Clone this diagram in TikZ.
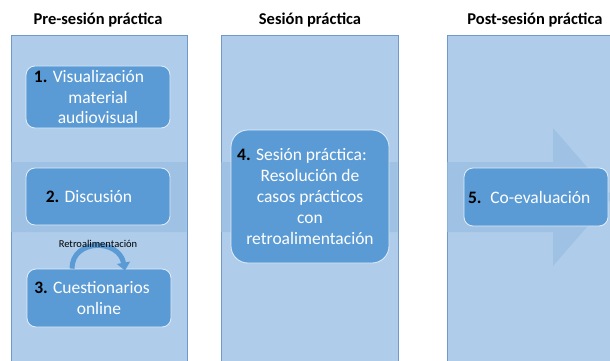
\documentclass[tikz,border=0pt]{standalone}
\usepackage{fontspec}
\setmainfont{Carlito}
\usetikzlibrary{arrows.meta}
\definecolor{colfill}{HTML}{AFCDEA}
\definecolor{colline}{HTML}{7098C8}
\definecolor{bandfill}{HTML}{9EC1E4}
\definecolor{boxfill}{HTML}{5B9BD5}
\definecolor{boxline}{HTML}{E3EEF9}
\tikzset{
  column/.style={fill=colfill,draw=colline,line width=0.7pt},
  title/.style={font=\bfseries\fontsize{16.5}{18}\selectfont,anchor=center,inner sep=0pt},
  stepbox/.style={fill=boxfill,draw=boxline,line width=0.8pt,rounded corners=9pt,
    text=white,font=\fontsize{17.5}{20.5}\selectfont,align=center,inner sep=0pt},
}
\newcommand{\numb}[1]{\textcolor{black}{\textbf{#1}}}
\begin{document}
\begin{tikzpicture}[x=1pt,y=-1pt]
\useasboundingbox (0,0) rectangle (610,361);
\begin{scope}
\clip (0,0) rectangle (610,361);
% columns
\draw[column] (11,372) -- (11,35) -- (187,35) -- (187,372);
\draw[column] (221,372) -- (221,35) -- (398,35) -- (398,372);
\draw[column] (447,372) -- (447,35) -- (620,35) -- (620,372);
% background arrow, seen only on the columns
\begin{scope}
\clip (11.4,35.4) rectangle (186.6,372) (221.4,35.4) rectangle (397.6,372) (447.4,35.4) rectangle (620,372);
\fill[bandfill] (0,162) -- (553,162) -- (553,128) -- (613,197) -- (553,266) -- (553,232) -- (0,232) -- cycle;
\end{scope}
\end{scope}
% titles
\node[title] (t1) at (98,20) {Pre-sesión práctica};
\node[title] (t2) at (310,20) {Sesión práctica};
\node[title] (t3) at (535,20) {Post-sesión práctica};
% boxes
\node[stepbox,minimum width=144pt,minimum height=62pt] (b1) at (98,97)
  {\numb{1.} Visualización\hspace*{18pt}\\material\\audiovisual};
\node[stepbox,minimum width=144pt,minimum height=57pt] (b2) at (98,196.5)
  {\numb{2.} Discusión\hspace*{18pt}};
\node[stepbox,minimum width=144pt,minimum height=58pt] (b3) at (99,298)
  {\numb{3.} Cuestionarios\hspace*{14pt}\\online};
\node[stepbox,rounded corners=17pt,minimum width=158pt,minimum height=133pt,font=\fontsize{17.5}{21}\selectfont] (b4) at (310,196.5)
  {\numb{4.} Sesión práctica:\hspace*{16pt}\\Resolución de\\casos prácticos\\con\\retroalimentación};
\node[stepbox,minimum width=144pt,minimum height=58pt,text width=136pt,align=left] (b5) at (536,197)
  {\numb{5.} Co-evaluación};
% feedback arrow
\coordinate (ra) at ([xshift=-27pt]b3.north);
\coordinate (rb) at ([xshift=26pt,yshift=-2pt]b3.north);
\draw[boxfill,line width=5pt,-{Triangle[length=8pt,width=13pt]}]
  (ra) .. controls ([yshift=30pt]ra) and ([xshift=-6pt,yshift=32pt]rb) .. (rb);
\node[font=\fontsize{10.5}{12}\selectfont,inner sep=0pt] (rl) at (98,244) {Retroalimentación};
\end{tikzpicture}
\end{document}
